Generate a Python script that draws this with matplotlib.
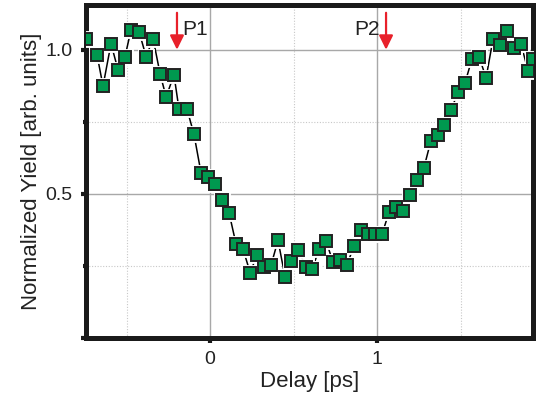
import matplotlib
matplotlib.use("Agg")
import matplotlib.pyplot as plt
from matplotlib.ticker import FixedLocator

plt.rcParams['font.family'] = ['Liberation Sans', 'DejaVu Sans']

delay = [-0.743, -0.677, -0.641, -0.593, -0.551, -0.509, -0.473, -0.425, -0.383, -0.341,
         -0.299, -0.263, -0.216, -0.186, -0.138, -0.096, -0.054, -0.012, 0.030, 0.072,
         0.114, 0.156, 0.198, 0.240, 0.281, 0.323, 0.365, 0.407, 0.449, 0.485,
         0.527, 0.575, 0.611, 0.653, 0.695, 0.737, 0.778, 0.820, 0.862, 0.904,
         0.946, 0.988, 1.030, 1.072, 1.114, 1.156, 1.198, 1.240, 1.281, 1.323,
         1.365, 1.401, 1.443, 1.485, 1.527, 1.569, 1.611, 1.653, 1.695, 1.737,
         1.778, 1.820, 1.862, 1.904, 1.934]
yield_ = [1.038, 0.983, 0.874, 1.021, 0.930, 0.976, 1.070, 1.063, 0.976, 1.038,
          0.916, 0.836, 0.913, 0.794, 0.794, 0.706, 0.573, 0.559, 0.535, 0.479,
          0.434, 0.325, 0.308, 0.227, 0.287, 0.245, 0.252, 0.339, 0.213, 0.266,
          0.304, 0.248, 0.238, 0.308, 0.336, 0.262, 0.269, 0.255, 0.318, 0.374,
          0.360, 0.360, 0.360, 0.437, 0.455, 0.441, 0.497, 0.549, 0.591, 0.685,
          0.703, 0.738, 0.790, 0.853, 0.885, 0.969, 0.976, 0.902, 1.038, 1.017,
          1.066, 1.007, 1.021, 0.927, 0.969]

arrow_labels = ["P1", "P2"]
arrow_x = [-0.198, 1.054]

xticks_major = [0, 1]
xtick_labels = ["0", "1"]
yticks_major = [0.0, 0.5, 1.0]
ytick_labels = ["", "0.5", "1.0"]

fig = plt.figure(figsize=(5.36, 4.01), dpi=100)
ax = fig.add_axes([0.1604, 0.157, 0.834, 0.8305])

ax.set_xlim(-0.743, 1.934)
ax.set_ylim(0.0, 1.155)

ax.plot(delay, yield_, color='black', lw=1.1, zorder=3)
ax.plot(delay, yield_, ls='none', marker='s', ms=8, mfc='white', mec='white', mew=3.5, zorder=4)
ax.plot(delay, yield_, ls='none', marker='s', ms=8, mfc='#00994f', mec='#222222', mew=1.4, zorder=5)

red = '#e8202a'
for xa in arrow_x:
    ax.annotate("", xy=(xa, 1.0), xytext=(xa, 1.128),
                arrowprops=dict(arrowstyle='-|>,head_length=0.85,head_width=0.42', color=red, lw=1.6,
                                shrinkA=0, shrinkB=0), zorder=6)
ax.text(arrow_x[0] + 0.03, 1.07, arrow_labels[0], fontsize=15, color='#222222', ha='left', va='center')
ax.text(arrow_x[1] - 0.04, 1.07, arrow_labels[1], fontsize=15, color='#222222', ha='right', va='center')

ax.xaxis.set_major_locator(FixedLocator(xticks_major))
ax.set_xticklabels(xtick_labels)
ax.xaxis.set_minor_locator(FixedLocator([-0.5, 0.5, 1.5]))
ax.yaxis.set_major_locator(FixedLocator(yticks_major))
ax.set_yticklabels(ytick_labels)
ax.yaxis.set_minor_locator(FixedLocator([0.25, 0.75]))

ax.grid(which='major', color='#a8a8a8', lw=1.0, ls='-', zorder=0)
ax.grid(which='minor', color='#c8c8c8', lw=0.8, ls=(0, (1, 1.5)), zorder=0)
ax.set_axisbelow(True)

for s in ax.spines.values():
    s.set_linewidth(3.6)
    s.set_color('#1a1a1a')

ax.tick_params(which='both', direction='out', width=3, color='#1a1a1a', labelsize=14,
               labelcolor='#222222')
ax.tick_params(which='major', length=3.5, pad=6)
ax.tick_params(which='minor', length=2.5)

ax.set_xlabel("Delay [ps]", fontsize=16, color='#222222', labelpad=2)
ax.set_ylabel("Normalized Yield [arb. units]", fontsize=16, color='#222222', labelpad=2.5)

fig.savefig("out.png", dpi=100)
